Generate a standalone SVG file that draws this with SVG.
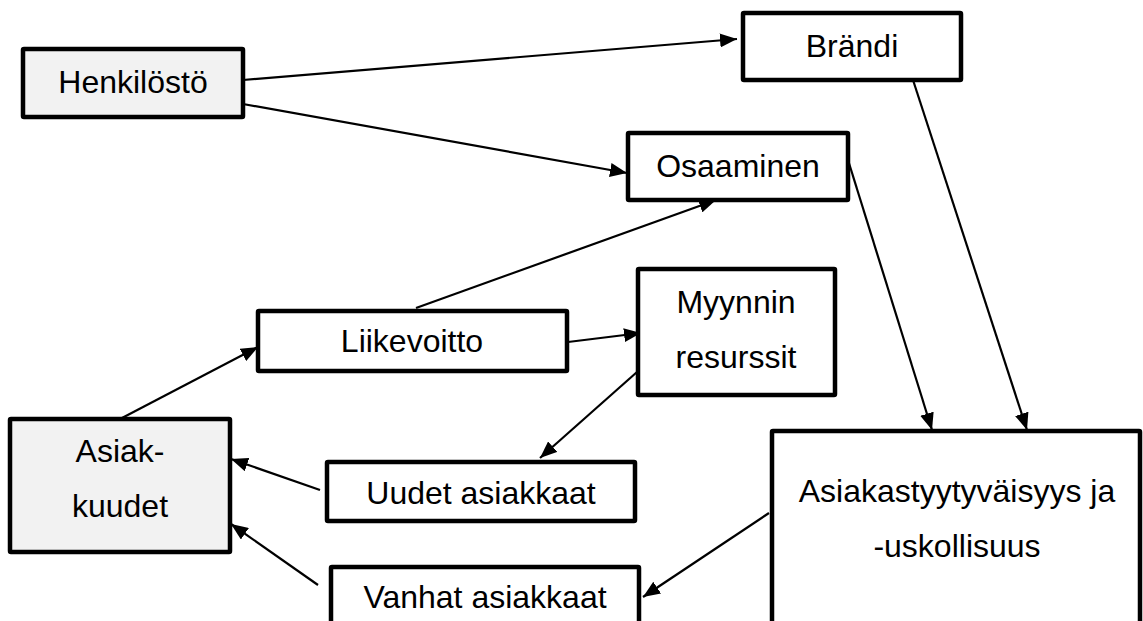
<svg xmlns="http://www.w3.org/2000/svg" width="1143" height="621" viewBox="0 0 1143 621">
<style>
.box{fill:#ffffff;stroke:#000000;stroke-width:4.5;stroke-linejoin:round}
.grey{fill:#f2f2f2}
.lbl{font-family:"Liberation Sans",Arial,sans-serif;font-size:32px;fill:#000000;text-anchor:middle}
.con{stroke:#000000;stroke-width:2.2;fill:none}
</style>
<defs>
<marker id="arr" markerUnits="userSpaceOnUse" markerWidth="18" markerHeight="14" refX="17" refY="7" orient="auto">
<path d="M0,0 L17,7 L0,14 z" fill="#000000"/>
</marker>
</defs>
<rect width="1143" height="621" fill="#ffffff"/>
<g id="connectors">
<line class="con" x1="243" y1="80" x2="737" y2="39" marker-end="url(#arr)"/>
<line class="con" x1="243" y1="104" x2="627" y2="173" marker-end="url(#arr)"/>
<line class="con" x1="416" y1="308" x2="716" y2="200" marker-end="url(#arr)"/>
<line class="con" x1="568" y1="342" x2="641" y2="333" marker-end="url(#arr)"/>
<line class="con" x1="122" y1="418" x2="258" y2="347" marker-end="url(#arr)"/>
<line class="con" x1="637" y1="372" x2="540" y2="458" marker-end="url(#arr)"/>
<line class="con" x1="320" y1="490" x2="231" y2="459" marker-end="url(#arr)"/>
<line class="con" x1="318" y1="585" x2="231" y2="524" marker-end="url(#arr)"/>
<line class="con" x1="848" y1="160" x2="932" y2="430" marker-end="url(#arr)"/>
<line class="con" x1="913" y1="80" x2="1027" y2="430" marker-end="url(#arr)"/>
<line class="con" x1="769" y1="513" x2="643" y2="597" marker-end="url(#arr)"/>
</g>
<g id="henkilosto">
<rect class="box grey" x="23" y="49" width="220" height="68" rx="1"/>
<text class="lbl" x="133" y="93">Henkilöstö</text>
</g>
<g id="brandi">
<rect class="box" x="743" y="13" width="218" height="67" rx="1"/>
<text class="lbl" x="852" y="57">Brändi</text>
</g>
<g id="osaaminen">
<rect class="box" x="628" y="133" width="220" height="67" rx="1"/>
<text class="lbl" x="738" y="177">Osaaminen</text>
</g>
<g id="liikevoitto">
<rect class="box" x="258" y="311" width="309" height="60" rx="1"/>
<text class="lbl" x="412" y="352">Liikevoitto</text>
</g>
<g id="myynnin-resurssit">
<rect class="box" x="638" y="269" width="197" height="126" rx="1"/>
<text class="lbl" x="736" y="313">Myynnin</text>
<text class="lbl" x="736" y="368">resurssit</text>
</g>
<g id="asiakkuudet">
<rect class="box grey" x="10" y="419" width="220" height="133" rx="1"/>
<text class="lbl" x="120" y="462">Asiak-</text>
<text class="lbl" x="120" y="517">kuudet</text>
</g>
<g id="uudet-asiakkaat">
<rect class="box" x="327" y="462" width="308" height="59" rx="1"/>
<text class="lbl" x="481" y="504">Uudet asiakkaat</text>
</g>
<g id="vanhat-asiakkaat">
<rect class="box" x="331" y="567" width="308" height="80" rx="1"/>
<text class="lbl" x="485" y="608">Vanhat asiakkaat</text>
</g>
<g id="asiakastyytyvaisyys">
<rect class="box" x="772" y="431" width="368" height="230" rx="1"/>
<text class="lbl" x="957" y="502">Asiakastyytyväisyys ja</text>
<text class="lbl" x="957" y="557">-uskollisuus</text>
</g>
</svg>
